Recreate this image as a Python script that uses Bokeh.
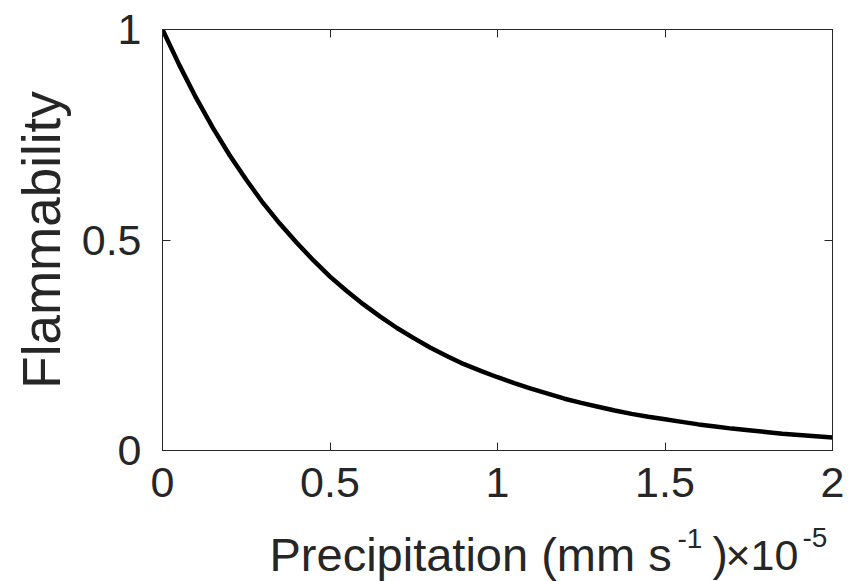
from bokeh.plotting import figure
from bokeh.models import Range1d, FixedTicker, LinearAxis, Label
from bokeh.layouts import column
from bokeh.embed import file_html
from bokeh.resources import INLINE

# ---- data (precipitation in units of 1e-5 mm s^-1) ----
precip = [0.00, 0.05, 0.10, 0.15, 0.20, 0.25, 0.30, 0.35, 0.40, 0.45, 0.50,
          0.55, 0.60, 0.65, 0.70, 0.75, 0.80, 0.85, 0.90, 0.95, 1.00,
          1.05, 1.10, 1.15, 1.20, 1.25, 1.30, 1.35, 1.40, 1.45, 1.50,
          1.55, 1.60, 1.65, 1.70, 1.75, 1.80, 1.85, 1.90, 1.95, 2.00]
flammability = [1.000, 0.916, 0.838, 0.767, 0.702, 0.643, 0.588, 0.539, 0.494, 0.452, 0.413,
                0.379, 0.347, 0.318, 0.291, 0.267, 0.244, 0.224, 0.205, 0.189, 0.174,
                0.160, 0.147, 0.135, 0.123, 0.113, 0.104, 0.095, 0.087, 0.080, 0.074,
                0.068, 0.062, 0.057, 0.052, 0.048, 0.044, 0.040, 0.037, 0.034, 0.031]

x_ticks = [0, 0.5, 1, 1.5, 2]
x_tick_labels = ["0", "0.5", "1", "1.5", "2"]
y_ticks = [0, 0.5, 1]
y_tick_labels = ["0", "0.5", "1"]

FONT = "Liberation Sans"
INK = "#262626"

W, H = 848, 581
H_TOP = 522                      # height of the main plot canvas
FL, FR, FT, FB = 162, 832, 29, 450   # frame edges in page pixels

p = figure(width=W, height=H_TOP, output_backend="svg", toolbar_location=None,
           x_range=Range1d(0, 2), y_range=Range1d(0, 1),
           min_border_left=FL, min_border_right=W - FR,
           min_border_top=FT, min_border_bottom=H_TOP - FB)
p.background_fill_color = "white"
p.border_fill_color = "white"
p.outline_line_color = INK
p.outline_line_width = 1
p.xgrid.visible = False
p.ygrid.visible = False

p.line(precip, flammability, line_color="black", line_width=4.5, line_join="round")

def style_axis(ax, ticks, labels, show_labels, standoff):
    ax.ticker = FixedTicker(ticks=ticks)
    ax.major_label_overrides = {t: (l if show_labels else "") for t, l in zip(ticks, labels)}
    ax.major_tick_in = 8
    ax.major_tick_out = 0
    ax.minor_tick_line_color = None
    ax.axis_line_color = INK
    ax.major_tick_line_color = INK
    ax.major_label_text_font = FONT
    ax.major_label_text_color = INK
    ax.major_label_text_font_size = "43px" if show_labels else "1px"
    ax.major_label_standoff = standoff

xb = p.below[0]
yl = p.left[0]
style_axis(xb, x_ticks, x_tick_labels, True, 17)
style_axis(yl, y_ticks, y_tick_labels, True, 21)
yl.axis_label = "Flammability"
yl.axis_label_text_font = FONT
yl.axis_label_text_font_style = "normal"
yl.axis_label_text_font_size = "53px"
yl.axis_label_text_color = INK
yl.axis_label_standoff = 8

xt = LinearAxis()
style_axis(xt, x_ticks, x_tick_labels, False, 0)
p.add_layout(xt, "above")
yr = LinearAxis()
style_axis(yr, y_ticks, y_tick_labels, False, 0)
p.add_layout(yr, "right")

# ---- strip below the plot carrying the x-axis title (with superscripts) ----
H_BOT = H - H_TOP
q = figure(title=None, frame_width=FR - FL, frame_height=H_BOT,
           output_backend="svg", toolbar_location=None,
           x_range=Range1d(FL, FR), y_range=Range1d(H, H_TOP),
           x_axis_location=None, y_axis_location=None,
           min_border=0, min_border_left=FL, min_border_right=W - FR,
           min_border_top=0, min_border_bottom=0)
q.outline_line_color = None
q.background_fill_color = "white"
q.border_fill_color = "white"
q.xgrid.visible = False
q.ygrid.visible = False

def add_text(txt, px, baseline, size):
    # the rendered baseline sits about 0.35 em below the anchor; compensate
    q.add_layout(Label(x=px, y=baseline - 0.35 * size, text=txt, text_font=FONT,
                       text_font_size=f"{size}px", text_color=INK,
                       text_baseline="alphabetic", text_align="left"))

base = 570
add_text("Precipitation (mm s", 269, base, 47)
add_text("-1", 677, base - 22, 28)
add_text(")", 712, base, 46)
add_text("\u00d710", 725, base, 43)
add_text("-5", 802, base - 23, 28)

layout = column(p, q, spacing=0)
open("out.html", "w").write(file_html(layout, INLINE))
